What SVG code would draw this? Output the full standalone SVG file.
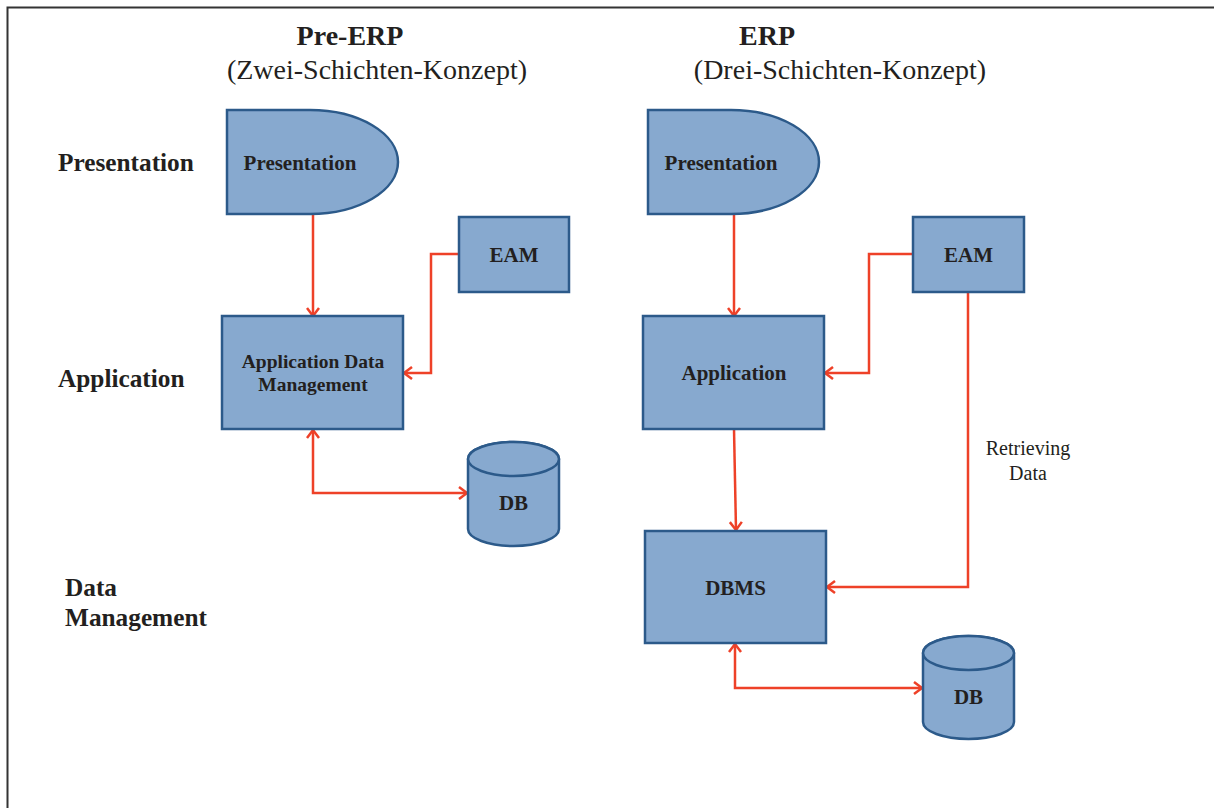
<svg xmlns="http://www.w3.org/2000/svg" width="1214" height="808" viewBox="0 0 1214 808">
  <style>
    .node { fill: #87A9CF; stroke: #2C5A8A; stroke-width: 2.5; }
    .lbl { font-family: "Liberation Serif", "Times New Roman", serif; font-weight: bold; fill: #231F20; text-anchor: middle; }
    .row { font-family: "Liberation Serif", "Times New Roman", serif; font-weight: bold; fill: #231F20; font-size: 25.3px; }
    .title { font-family: "Liberation Serif", "Times New Roman", serif; fill: #231F20; text-anchor: middle; font-size: 28px; }
    .note { font-family: "Liberation Serif", "Times New Roman", serif; fill: #231F20; text-anchor: middle; font-size: 20px; }
    .wire { fill: none; stroke: #EE4128; stroke-width: 2.5; }
  </style>
  <defs>
    <marker id="chev" markerUnits="userSpaceOnUse" markerWidth="14" markerHeight="16" refX="10" refY="7" orient="auto-start-reverse">
      <path d="M2,1 L10,7 L2,13" fill="none" stroke="#EE4128" stroke-width="2.5"/>
    </marker>
  </defs>

  <!-- frame -->
  <path d="M7.5,808 V7.5 H1214" fill="none" stroke="#333" stroke-width="2"/>

  <!-- titles -->
  <g id="titles">
    <text class="title" x="350" y="45" font-weight="bold">Pre-ERP</text>
    <text class="title" x="377" y="79">(Zwei-Schichten-Konzept)</text>
    <text class="title" x="767" y="45" font-weight="bold">ERP</text>
    <text class="title" x="840" y="79">(Drei-Schichten-Konzept)</text>
  </g>

  <!-- layer labels -->
  <g id="layers">
    <text class="row" x="58" y="171">Presentation</text>
    <text class="row" x="58" y="387">Application</text>
    <text class="row" x="65" y="596">Data</text>
    <text class="row" x="65" y="626">Management</text>
  </g>

  <!-- connectors -->
  <g id="connectors">
    <path class="wire" d="M313,214 V316" marker-end="url(#chev)"/>
    <path class="wire" d="M459,254 H431 V373 H404" marker-end="url(#chev)"/>
    <path class="wire" d="M313,430 V493 H467" marker-start="url(#chev)" marker-end="url(#chev)"/>

    <path class="wire" d="M734,214 V316" marker-end="url(#chev)"/>
    <path class="wire" d="M913,254 H869 V373 H825" marker-end="url(#chev)"/>
    <path class="wire" d="M734,429 L736,530" marker-end="url(#chev)"/>
    <path class="wire" d="M968,292 V587 H827" marker-end="url(#chev)"/>
    <path class="wire" d="M735,644 V688 H922" marker-start="url(#chev)" marker-end="url(#chev)"/>
    <text class="note" x="1028" y="455">Retrieving</text>
    <text class="note" x="1028" y="480">Data</text>
  </g>

  <!-- Pre-ERP nodes -->
  <g id="pre-presentation">
    <path class="node" d="M227,110 H310 A88,52 0 0 1 310,214 H227 Z"/>
    <text class="lbl" x="300" y="170" font-size="21">Presentation</text>
  </g>
  <g id="pre-application">
    <rect class="node" x="222" y="316" width="181" height="113"/>
    <text class="lbl" x="313" y="368" font-size="19.5">Application Data</text>
    <text class="lbl" x="313" y="391" font-size="19.5">Management</text>
  </g>
  <g id="pre-eam">
    <rect class="node" x="459" y="217" width="110" height="75"/>
    <text class="lbl" x="514" y="262" font-size="21">EAM</text>
  </g>
  <g id="pre-db">
    <path class="node" d="M468,459 V529 A45.5,17 0 0 0 559,529 V459 A45.5,17 0 0 0 468,459 Z"/>
    <ellipse class="node" cx="513.5" cy="459" rx="45.5" ry="17"/>
    <text class="lbl" x="513.5" y="510" font-size="21">DB</text>
  </g>

  <!-- ERP nodes -->
  <g id="erp-presentation">
    <path class="node" d="M648,110 H731 A88,52 0 0 1 731,214 H648 Z"/>
    <text class="lbl" x="721" y="170" font-size="21">Presentation</text>
  </g>
  <g id="erp-application">
    <rect class="node" x="643" y="316" width="181" height="113"/>
    <text class="lbl" x="734" y="380" font-size="21">Application</text>
  </g>
  <g id="erp-eam">
    <rect class="node" x="913" y="217" width="111" height="75"/>
    <text class="lbl" x="968.5" y="262" font-size="21">EAM</text>
  </g>
  <g id="erp-dbms">
    <rect class="node" x="645" y="531" width="181" height="112"/>
    <text class="lbl" x="735.5" y="595" font-size="21">DBMS</text>
  </g>
  <g id="erp-db">
    <path class="node" d="M923,653 V722 A45.5,17 0 0 0 1014,722 V653 A45.5,17 0 0 0 923,653 Z"/>
    <ellipse class="node" cx="968.5" cy="653" rx="45.5" ry="17"/>
    <text class="lbl" x="968.5" y="704" font-size="21">DB</text>
  </g>
</svg>
